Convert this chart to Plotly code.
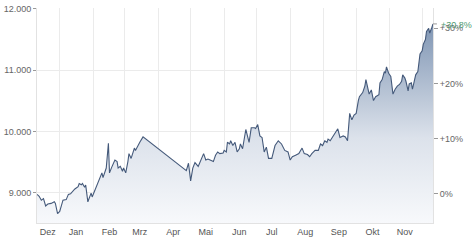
import plotly.graph_objects as go

# ---- data ----
dates = [
    "2023-12-11", "2023-12-13", "2023-12-15", "2023-12-17", "2023-12-19", "2023-12-21", "2023-12-24",
    "2023-12-27", "2023-12-28", "2023-12-30", "2024-01-01", "2024-01-04", "2024-01-07", "2024-01-09",
    "2024-01-11", "2024-01-15", "2024-01-18", "2024-01-19", "2024-01-21", "2024-01-22", "2024-01-24",
    "2024-01-25", "2024-01-27", "2024-01-30", "2024-01-31", "2024-02-03", "2024-02-07", "2024-02-09",
    "2024-02-10", "2024-02-13", "2024-02-15", "2024-02-16", "2024-02-18", "2024-02-21", "2024-02-23",
    "2024-02-24", "2024-02-26", "2024-02-28", "2024-02-29", "2024-03-02", "2024-03-04", "2024-03-05",
    "2024-03-07", "2024-03-09", "2024-03-10", "2024-03-11", "2024-03-13", "2024-03-15", "2024-03-18",
    "2024-04-27", "2024-04-29", "2024-05-01", "2024-05-03", "2024-05-05", "2024-05-08", "2024-05-10",
    "2024-05-11", "2024-05-13", "2024-05-15", "2024-05-17", "2024-05-19", "2024-05-22", "2024-05-24",
    "2024-05-26", "2024-05-28", "2024-05-31", "2024-06-01", "2024-06-03", "2024-06-04", "2024-06-06",
    "2024-06-07", "2024-06-09", "2024-06-11", "2024-06-13", "2024-06-15", "2024-06-16", "2024-06-18",
    "2024-06-21", "2024-06-24", "2024-06-26", "2024-06-29", "2024-06-30", "2024-07-02", "2024-07-04",
    "2024-07-06", "2024-07-08", "2024-07-10", "2024-07-12", "2024-07-15", "2024-07-18", "2024-07-21",
    "2024-07-24", "2024-07-27", "2024-07-30", "2024-08-01", "2024-08-03", "2024-08-06", "2024-08-09",
    "2024-08-12", "2024-08-14", "2024-08-17", "2024-08-19", "2024-08-21", "2024-08-24", "2024-08-27",
    "2024-08-29", "2024-08-31", "2024-09-02", "2024-09-04", "2024-09-05", "2024-09-07", "2024-09-10",
    "2024-09-13", "2024-09-14", "2024-09-16", "2024-09-19", "2024-09-21", "2024-09-23", "2024-09-25",
    "2024-09-27", "2024-09-29", "2024-10-01", "2024-10-03", "2024-10-04", "2024-10-07", "2024-10-09",
    "2024-10-10", "2024-10-12", "2024-10-13", "2024-10-15", "2024-10-17", "2024-10-19", "2024-10-22",
    "2024-10-23", "2024-10-25", "2024-10-27", "2024-10-28", "2024-10-29", "2024-10-31", "2024-11-02",
    "2024-11-04", "2024-11-06", "2024-11-08", "2024-11-10", "2024-11-12", "2024-11-13", "2024-11-15",
    "2024-11-16", "2024-11-18", "2024-11-19", "2024-11-21", "2024-11-22", "2024-11-24", "2024-11-25",
    "2024-11-27", "2024-11-29", "2024-12-01", "2024-12-02", "2024-12-04", "2024-12-05", "2024-12-07",
    "2024-12-08", "2024-12-10", "2024-12-11",
]
values = [
    8976, 8945, 8882, 8907, 8788, 8819, 8829,
    8855, 8829, 8662, 8698, 8882, 8891, 8976,
    8986, 9064, 9102, 9154, 9133, 9154, 9091,
    9127, 8855, 8997, 8934, 9064, 9221, 9326,
    9248, 9405, 9808, 9326, 9416, 9535, 9510,
    9405, 9432, 9353, 9405, 9326, 9510, 9640,
    9562, 9677, 9730, 9692, 9771, 9824, 9912,
    9362, 9483, 9196, 9405, 9494, 9432, 9510,
    9535, 9640, 9535, 9551, 9535, 9510, 9614,
    9667, 9640, 9651, 9692, 9667, 9824, 9797,
    9849, 9771, 9824, 9667, 9719, 9797, 9719,
    10033, 9824, 10060, 10060, 10049, 10112, 9928,
    9903, 9667, 9746, 9562, 9562, 9771, 9849,
    9797, 9692, 9667, 9535, 9589, 9614, 9640,
    9730, 9640, 9625, 9589, 9640, 9692, 9692,
    9797, 9771, 9849, 9824, 9876, 9849, 9928,
    10006, 10044, 9903, 9928, 9912, 9849, 10295,
    10190, 10268, 10295, 10504, 10567, 10634, 10739,
    10845, 10713, 10609, 10677, 10504, 10567, 10598,
    10791, 10845, 10975, 10948, 11053, 10948, 10896,
    10609, 10688, 10739, 10766, 10818, 10923, 10870,
    10818, 10661, 10775, 10791, 10688, 10818, 10923,
    10975, 11262, 11315, 11419, 11498, 11630, 11681,
    11603, 11697, 11752,
]

month_tick_dates = ["2023-12-21", "2024-01-16", "2024-02-16", "2024-03-15", "2024-04-15", "2024-05-15",
                    "2024-06-15", "2024-07-15", "2024-08-15", "2024-09-15", "2024-10-16", "2024-11-15"]
month_labels = ["Dez", "Jan", "Feb", "Mrz", "Apr", "Mai", "Jun", "Jul", "Aug", "Sep", "Okt", "Nov"]

left_ticks = [9000, 10000, 11000, 12000]
left_labels = ["9.000", "10.000", "11.000", "12.000"]
pct_ticks = [0, 10, 20, 30]
pct_labels = ["0%", "+10%", "+20%", "+30%"]
base_value = 8985
last_change_label = "+30.8%"

y_min, y_max = 8510, 12011
x_start, x_end = "2023-12-11", "2024-12-11"

FONT = "Liberation Sans, Arial, sans-serif"
GRID = "#ebebeb"
TICKC = "#666666"

last_pct = (values[-1] / base_value - 1) * 100

fig = go.Figure()
fig.add_trace(go.Scatter(
    x=dates, y=values, mode="lines",
    line=dict(color="#44597a", width=1.1),
    fill="tozeroy",
    fillgradient=dict(type="vertical", start=y_min, stop=max(values),
                      colorscale=[[0, "rgba(250,251,253,1)"], [0.45, "rgba(220,226,235,1)"],
                                  [1, "rgba(128,150,180,1)"]]),
    hoverinfo="skip", showlegend=False,
))
# invisible trace on the percentage axis
fig.add_trace(go.Scatter(x=[dates[-1]], y=[last_pct], yaxis="y2",
                         mode="markers", marker=dict(opacity=0), showlegend=False, hoverinfo="skip"))

fig.update_layout(
    width=474, height=241,
    margin=dict(l=34, r=41, t=4, b=14),
    paper_bgcolor="white", plot_bgcolor="white",
    font=dict(family=FONT, size=9, color=TICKC),
    xaxis=dict(
        type="date", range=[x_start, x_end],
        tickvals=month_tick_dates, ticktext=month_labels,
        showgrid=False, ticks="", tickfont=dict(size=9, color="#555555"),
        minor=dict(dtick="M1", tick0="2023-12-01", showgrid=True, gridcolor=GRID, gridwidth=1, ticks=""),
        showline=True, linecolor="#e2e2e2", linewidth=1, zeroline=False, fixedrange=True,
    ),
    yaxis=dict(
        range=[y_min, y_max], tickvals=left_ticks, ticktext=left_labels,
        showgrid=True, gridcolor=GRID, gridwidth=1, ticklabeloverflow="allow",
        ticks="outside", ticklen=3, tickcolor="#999999", tickfont=dict(size=9, color=TICKC),
        showline=True, linecolor="#e2e2e2", linewidth=1, zeroline=False,
    ),
    yaxis2=dict(
        overlaying="y", side="right",
        range=[(y_min / base_value - 1) * 100, (y_max / base_value - 1) * 100],
        tickvals=pct_ticks, ticktext=pct_labels, showgrid=False, ticklabeloverflow="allow",
        ticks="outside", ticklen=4, tickcolor="#999999", tickfont=dict(size=9, color=TICKC),
        showline=True, linecolor="#e2e2e2", linewidth=1, zeroline=False,
    ),
)

fig.add_shape(type="line", xref="paper", yref="y2", x0=1.0, x1=1.01, y0=last_pct, y1=last_pct,
              line=dict(color="#999999", width=1))
fig.add_annotation(
    x=1, xref="paper", y=last_pct, yref="y2",
    text=last_change_label, showarrow=False, xanchor="left", yanchor="middle", xshift=6, yshift=-1,
    font=dict(size=9, color="#4f9a72", family=FONT),
)

fig.write_html("out.html")
